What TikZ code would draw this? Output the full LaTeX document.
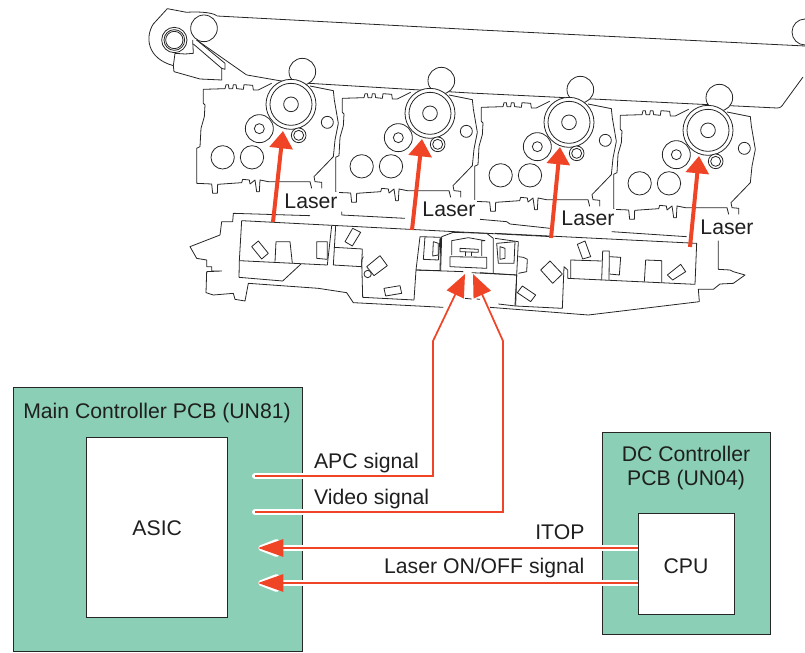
\documentclass[tikz,border=0pt]{standalone}
\usepackage{fontspec}
\setmainfont{Liberation Sans}
\usetikzlibrary{positioning, arrows.meta, calc}
\definecolor{pcbgreen}{HTML}{8ACFB6}
\definecolor{sigred}{HTML}{EF4426}

\begin{document}
\begin{tikzpicture}[
        x=0.75pt, y=-0.75pt,
        every node/.style={font=\fontsize{15.9pt}{18.7pt}\selectfont, text=black!88},
        part/.style={draw=black!85, line width=0.6pt, line join=round},
        pcb/.style={draw=black!85, line width=1.1pt, fill=pcbgreen},
        chip/.style={draw=black!85, line width=1.1pt, fill=white},
        lbl/.style={inner sep=1pt},
        mask/.style={fill=white, inner sep=1pt},
        laser/.style={draw=sigred, line width=3pt, -{Triangle[length=13pt,width=17pt]}},
        feed/.style={draw=sigred, line width=1.3pt, line join=miter, -{Triangle[length=17pt,width=14pt]}},
        sigline/.style={draw=sigred, line width=1.4pt, preaction={draw=white, line width=4.5pt, line cap=round}},
        sigback/.style={draw=sigred, line width=1.4pt, -{Triangle[length=19pt,width=13pt]},
            preaction={draw=white, line width=4pt, -{Triangle[length=20pt,width=14pt,round,line width=4pt,fill=white]}}},
    ]
    \useasboundingbox (0,0) rectangle (805,652);

    % belt
    \draw[part] (217,16) -- (480,30) -- (805,46);
    \draw[part] (247,75) -- (287,82) -- (470,93) -- (777,108) .. controls (781,108) and (782,106) .. (784,103) -- (803,77);
    \draw[part] (805,45) arc (90:270:13);
    \begin{scope}[shift={(140,0)}, scale=1/3]
        \draw[part] (230,47) .. controls (215,35) and (160,35) .. (140,37) -- (82,26) -- (40,72)
            .. controls (15,110) and (20,175) .. (100,197) -- (102,215) -- (180,237) -- (245,240) -- (245,205) -- (160,132);
        \draw[part] (158,120) -- (160,160) -- (135,162) -- (105,160) -- (100,197);
        \draw[part] (170,120) -- (255,190) -- (255,208) -- (245,205);
        \draw[part] (170,120) -- (320,225);
        \draw[part] (103,120) circle (38);
        \draw[part] (103,120) circle (31);
        \draw[part] (103,120) circle (26);
        \draw[part, fill=white] (192,85) circle (40);
    \end{scope}

    % drum units
    \foreach \ux/\uy in {0/0, 139/9, 278/18, 417/26} {
        \begin{scope}[shift={(140+\ux,\uy)}, scale=1/3]
            \draw[part, fill=white] (487,215) circle (40);
            \draw[part] (395,250) -- (355,270) -- (340,270) -- (338,256) -- (312,254) -- (310,268) -- (290,266)
                -- (288,254) -- (280,254) -- (278,266) -- (267,266) -- (265,254) -- (258,254) -- (255,266) -- (190,268)
                -- (190,310) -- (195,315) -- (193,350) -- (183,385) -- (180,440) -- (170,445) -- (170,550) -- (215,552)
                -- (218,580) -- (232,580) -- (233,553) -- (305,548) -- (308,538) -- (328,540) -- (330,552) -- (345,540)
                -- (350,575) -- (358,575) -- (360,540) -- (385,545) -- (510,545) -- (515,565);
            \draw[part] (510,258) -- (580,272) -- (583,300) -- (595,370) -- (585,420) -- (580,470) -- (522,530)
                -- (525,545) -- (545,547) -- (545,565);
            \draw[part, fill=white] (453,313) circle (75);
            \draw[part] (453,313) circle (63);
            \draw[part] (453,313) circle (22);
            \draw[part, fill=white] (358,386) circle (42);
            \draw[part] (358,386) circle (15);
            \draw[part, fill=white] (476,406) circle (22);
            \draw[part] (476,406) circle (15);
            \draw[part] (562,367) circle (18);
            \draw[part] (248,472) circle (35);
            \draw[part] (336,472) circle (35);
        \end{scope}
    }

    % scanner, left and middle part
    \begin{scope}[shift={(190,200)}, scale=1/3]
        \draw[part] (360,47) -- (130,40) -- (128,65) -- (95,65) -- (90,105) -- (0,140) -- (20,175) -- (50,180) -- (50,200)
            -- (65,200) -- (65,213) -- (95,213) -- (50,215) -- (48,278) -- (70,285) -- (130,280) -- (135,298) -- (165,303)
            -- (175,250) -- (385,265) -- (470,278) -- (490,308) -- (760,322);
        \draw[part] (455,35) -- (455,45) -- (645,55);
        \draw[part] (870,58) -- (950,65) -- (960,72) -- (1080,85);
        \draw[part] (155,62) -- (1085,110);
        \draw[part] (155,62) -- (148,182) -- (147,232) -- (278,243) -- (333,192);
        \draw[part] (148,182) -- (412,195);
        \draw[part] (425,78) -- (412,195);
        \draw[part] (437,78) -- (430,195) -- (515,200);
        \draw[part] (432,142) -- (517,147) -- (515,200);
        \draw[part] (380,125) -- (412,125) -- (412,178) -- (380,175) -- cycle;
        \draw[part] (185,140) -- (205,123) -- (235,160) -- (215,177) -- cycle;
        \draw[part] (255,185) -- (258,125) -- (300,125) -- (307,190);
        \draw[part] (465,125) -- (488,85) -- (512,97) -- (487,138) -- cycle;
        \draw[part] (520,170) -- (515,180) -- (518,292) -- (672,300);
        \draw[part] (533,222) circle (11);
        \draw[part, fill=white] (530,200) -- (570,167) -- (592,197) -- (552,227) -- cycle;
        \draw[part] (582,265) -- (630,257) -- (635,280) -- (587,288) -- cycle;
        \draw[part] (672,300) -- (678,210) -- (750,212) -- (752,112);
        \draw[part] (678,210) -- (690,110) -- (752,112);
        \draw[part] (705,110) -- (700,178) -- (745,180) -- (750,115);
        \draw[part] (730,125) -- (745,130) -- (745,165) -- (728,168) -- cycle;
        \draw[part] (755,110) -- (790,97) -- (890,100) -- (910,115) -- (910,220);
        \draw[part] (755,110) -- (752,212);
        \draw[part] (785,165) -- (785,122) -- (835,113) -- (885,122) -- (875,122) -- (875,168);
        \draw[part] (780,170) -- (890,172) -- (890,205) -- (780,200) -- cycle;
        \draw[part] (810,145) -- (865,148) -- (865,157) -- (810,155) -- cycle;
        \draw[part] (825,155) -- (825,168);
        \draw[part] (845,156) -- (845,168);
        \draw[part] (915,115) -- (985,125) -- (980,225);
        \draw[part] (920,130) -- (975,125) -- (972,190) -- (925,190) -- cycle;
        \draw[part] (930,140) -- (945,145) -- (945,175) -- (930,178) -- cycle;
        \draw[part] (678,210) -- (820,215);
        \draw[part] (845,218) -- (980,225) -- (975,315);
        \draw[part] (825,295) -- (845,297);
        \draw[part] (860,297) -- (870,298);
        \draw[part] (985,170) -- (1000,172) -- (1012,178) -- (1010,215) -- (985,220);
    \end{scope}

    % scanner, right part
    \begin{scope}[shift={(500,200)}, scale=1/3]
        \draw[part] (335,95) -- (560,110);
        \draw[part] (-15,100) -- (590,130) -- (585,253) -- (203,235) -- (203,210) -- (192,200) -- (187,325) -- (47,318)
            -- (50,225) -- (-60,218);
        \draw[part] (47,318) -- (-5,312);
        \draw[part] (-30,322) -- (265,345) -- (598,305) -- (595,268) -- (640,268) -- (660,252) -- (700,250) -- (735,225)
            -- (700,215) -- (690,210) -- (655,208) -- (655,150) -- (655,122);
        \draw[part] (212,235) -- (212,180) -- (305,183);
        \draw[part] (305,240) -- (308,153) -- (328,153) -- (327,240);
        \draw[part] (328,170) -- (362,172) -- (358,225) -- (328,222);
        \draw[part] (433,245) -- (437,180) -- (485,182) -- (485,248);
        \draw[part] (502,225) -- (542,193) -- (557,215) -- (518,240) -- cycle;
        \draw[part] (232,133) -- (255,123) -- (272,170) -- (248,177) -- cycle;
        \draw[part] (122,210) -- (150,183) -- (187,222) -- (158,250) -- cycle;
        \draw[part] (52,278) -- (67,258) -- (107,285) -- (92,305) -- cycle;
    \end{scope}

    % laser beams
    \foreach \n/\ax/\ay/\bx/\by/\lx/\ly in {1/273/222/283/131/311/201, 2/412/230/422/139/449/209,
            3/551/238/560/147/588/218, 4/690/247/699/156/727/227} {
        \node[lbl, mask] (laser\n) at (\lx,\ly) {Laser};
        \coordinate (beamfrom\n) at (\ax,\ay);
        \coordinate (beamto\n) at (\bx,\by);
        \draw[laser] (beamfrom\n) -- (beamto\n);
    }

    % boards
    \node[pcb, minimum width=216.75pt, minimum height=198pt, anchor=north west, inner sep=0pt] (main) at (13,387) {};
    \node[pcb, minimum width=126pt, minimum height=151.5pt, anchor=north west, inner sep=0pt] (dc) at (602,432) {};
    \node[chip, minimum width=105.75pt, minimum height=135pt, anchor=north west, inner sep=0pt] (asic) at (86,437) {};
    \node[chip, minimum width=72pt, minimum height=75.75pt, anchor=north west, inner sep=0pt] (cpu) at (638,513) {};
    \node[lbl] (asictext) at (asic.center) {ASIC};
    \node[lbl] (cputext) at (686,566) {CPU};
    \node[lbl] (maintext) at (157,413) {Main Controller PCB (UN81)};
    \node[lbl, align=center] (dctext) at (686,468) {DC Controller\\PCB (UN04)};

    % signals
    \coordinate (apcfrom) at (255,476);
    \coordinate (apcbend) at (433,476);
    \coordinate (apcup) at (433,341);
    \coordinate (apcto) at (465,274);
    \coordinate (videofrom) at (255,512);
    \coordinate (videobend) at (503,512);
    \coordinate (videoup) at (503,341);
    \coordinate (videoto) at (473,274);
    \coordinate (itopto) at (258,548);
    \coordinate (laseronto) at (258,583);
    \draw[sigline] (apcfrom) -- (apcbend) -- (apcup);
    \draw[sigline] (videofrom) -- (videobend) -- (videoup);
    \draw[feed] (apcbend) -- (apcup) -- (apcto);
    \draw[feed] (videobend) -- (videoup) -- (videoto);
    \draw[sigback] (cpu.west |- itopto) -- (itopto);
    \draw[sigback] (cpu.west |- laseronto) -- (laseronto);

    \node[lbl, anchor=west] (apctext) at (312.5,463) {APC signal};
    \node[lbl, anchor=west] (videotext) at (312.5,499) {Video signal};
    \node[lbl, anchor=east] (itoptext) at (586,532) {ITOP};
    \node[lbl, anchor=east] (laserontext) at (586,568) {Laser ON/OFF signal};
\end{tikzpicture}
\end{document}
